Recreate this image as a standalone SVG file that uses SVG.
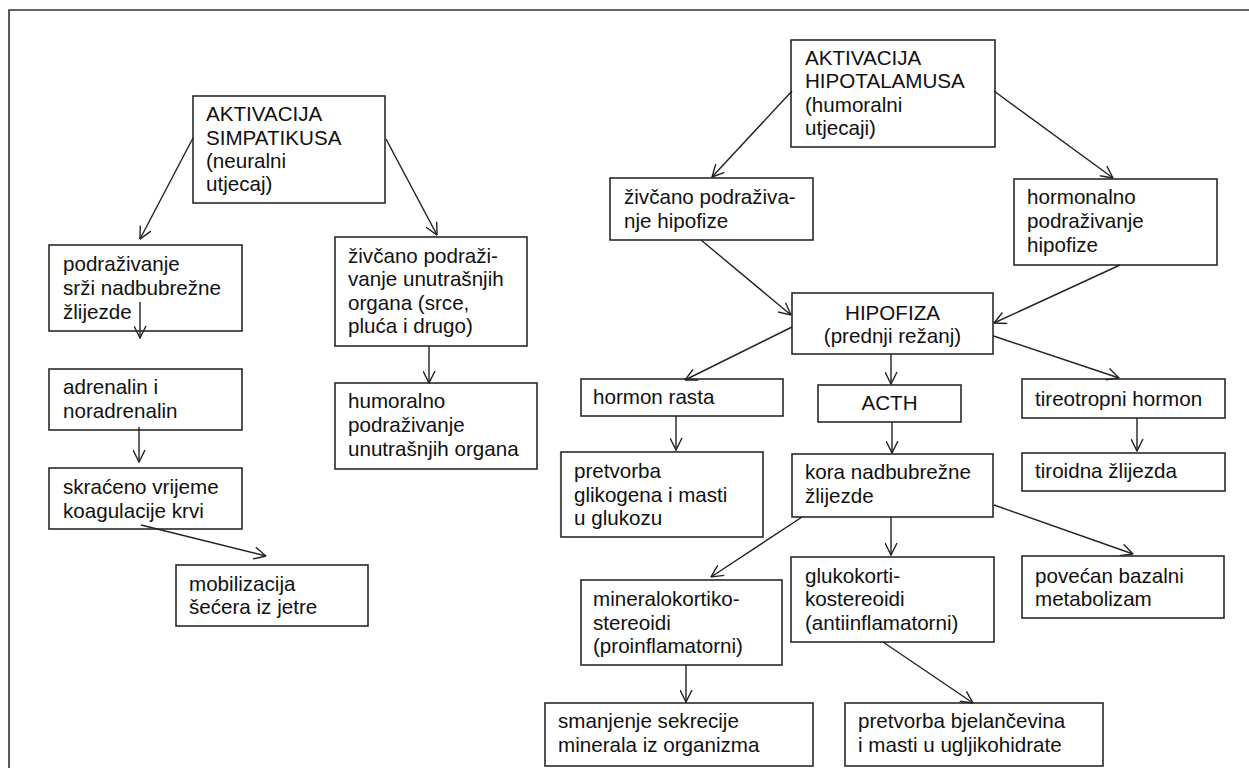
<svg xmlns="http://www.w3.org/2000/svg" width="1249" height="768" viewBox="0 0 1249 768">
<defs>
<style>
.b{fill:#fff;stroke:#2a2a2a;stroke-width:1.6}
.t{font-family:"Liberation Sans",Arial,sans-serif;font-size:20.6px;fill:#111}
.c{text-anchor:middle}
.l{stroke:#222;stroke-width:1.4;fill:none;marker-end:url(#ah)}
.f{stroke:#333;stroke-width:1.6;fill:none}
</style>
<marker id="ah" viewBox="0 0 13 13" refX="12.5" refY="6.5" markerWidth="13" markerHeight="13" markerUnits="userSpaceOnUse" orient="auto">
<path d="M0.5,0.5 L12.5,6.5 L0.5,12.5" fill="none" stroke="#222" stroke-width="1.4"/>
</marker>
</defs>
<rect width="1249" height="768" fill="#fff"/>
<g id="frame">
<path class="f" d="M9,768 V10 H1249"/>
<line x1="560" y1="452" x2="560" y2="537" stroke="#e2e2e2" stroke-width="1"/>
</g>
<g id="simpatikus">
<rect class="b" x="193" y="96" width="192" height="107"/>
<text class="t" x="206" y="121">AKTIVACIJA</text>
<text class="t" x="206" y="145">SIMPATIKUSA</text>
<text class="t" x="206" y="168">(neuralni</text>
<text class="t" x="206" y="191">utjecaj)</text>
</g>
<g id="srz">
<rect class="b" x="49" y="245" width="193" height="86"/>
<text class="t" x="63" y="271">podraživanje</text>
<text class="t" x="63" y="295">srži nadbubrežne</text>
<text class="t" x="63" y="319">žlijezde</text>
</g>
<g id="adrenalin">
<rect class="b" x="49" y="369" width="193" height="61"/>
<text class="t" x="63" y="394">adrenalin i</text>
<text class="t" x="63" y="418">noradrenalin</text>
</g>
<g id="koagulacija">
<rect class="b" x="49" y="468" width="193" height="61"/>
<text class="t" x="63" y="494">skraćeno vrijeme</text>
<text class="t" x="63" y="518">koagulacije krvi</text>
</g>
<g id="mobilizacija">
<rect class="b" x="176" y="565" width="192" height="61"/>
<text class="t" x="189" y="591">mobilizacija</text>
<text class="t" x="189" y="614">šećera iz jetre</text>
</g>
<g id="zivcano-organi">
<rect class="b" x="335" y="237" width="192" height="109"/>
<text class="t" x="348" y="263">živčano podraži-</text>
<text class="t" x="348" y="286">vanje unutrašnjih</text>
<text class="t" x="348" y="310">organa (srce,</text>
<text class="t" x="348" y="333">pluća i drugo)</text>
</g>
<g id="humoralno-organi">
<rect class="b" x="335" y="383" width="202" height="86"/>
<text class="t" x="348" y="408">humoralno</text>
<text class="t" x="348" y="432">podraživanje</text>
<text class="t" x="348" y="456">unutrašnjih organa</text>
</g>
<g id="hipotalamus">
<rect class="b" x="791" y="40" width="204" height="107"/>
<text class="t" x="805" y="65">AKTIVACIJA</text>
<text class="t" x="805" y="88">HIPOTALAMUSA</text>
<text class="t" x="805" y="112">(humoralni</text>
<text class="t" x="805" y="135">utjecaji)</text>
</g>
<g id="zivcano-hipofiza">
<rect class="b" x="610" y="178" width="203" height="62"/>
<text class="t" x="624" y="204">živčano podraživa-</text>
<text class="t" x="624" y="228">nje hipofize</text>
</g>
<g id="hormonalno-hipofiza">
<rect class="b" x="1014" y="179" width="203" height="86"/>
<text class="t" x="1027" y="204">hormonalno</text>
<text class="t" x="1027" y="228">podraživanje</text>
<text class="t" x="1027" y="252">hipofize</text>
</g>
<g id="hipofiza">
<rect class="b" x="792" y="293" width="201" height="61"/>
<text class="t c" x="892.5" y="320">HIPOFIZA</text>
<text class="t c" x="892.5" y="343">(prednji režanj)</text>
</g>
<g id="hormon-rasta">
<rect class="b" x="581" y="379" width="202" height="37"/>
<text class="t" x="593" y="404">hormon rasta</text>
</g>
<g id="acth">
<rect class="b" x="818" y="385" width="143" height="37"/>
<text class="t c" x="889.5" y="410">ACTH</text>
</g>
<g id="tireotropni">
<rect class="b" x="1022" y="379" width="203" height="39"/>
<text class="t" x="1035" y="406">tireotropni hormon</text>
</g>
<g id="glikogen">
<rect class="b" x="561" y="452" width="202" height="85"/>
<text class="t" x="574" y="478">pretvorba</text>
<text class="t" x="574" y="502">glikogena i masti</text>
<text class="t" x="574" y="525">u glukozu</text>
</g>
<g id="kora">
<rect class="b" x="792" y="454" width="201" height="63"/>
<text class="t" x="805" y="479">kora nadbubrežne</text>
<text class="t" x="805" y="503">žlijezde</text>
</g>
<g id="tiroidna">
<rect class="b" x="1022" y="453" width="203" height="38"/>
<text class="t" x="1035" y="478">tiroidna žlijezda</text>
</g>
<g id="mineralokortiko">
<rect class="b" x="581" y="580" width="201" height="85"/>
<text class="t" x="593" y="606">mineralokortiko-</text>
<text class="t" x="593" y="630">stereoidi</text>
<text class="t" x="593" y="653">(proinflamatorni)</text>
</g>
<g id="glukokorti">
<rect class="b" x="791" y="557" width="203" height="85"/>
<text class="t" x="805" y="583">glukokorti-</text>
<text class="t" x="805" y="606">kostereoidi</text>
<text class="t" x="805" y="630">(antiinflamatorni)</text>
</g>
<g id="metabolizam">
<rect class="b" x="1022" y="556" width="202" height="62"/>
<text class="t" x="1035" y="583">povećan bazalni</text>
<text class="t" x="1035" y="606">metabolizam</text>
</g>
<g id="minerali">
<rect class="b" x="545" y="703" width="268" height="63"/>
<text class="t" x="558" y="728">smanjenje sekrecije</text>
<text class="t" x="558" y="752">minerala iz organizma</text>
</g>
<g id="bjelancevine">
<rect class="b" x="845" y="703" width="258" height="63"/>
<text class="t" x="858" y="728">pretvorba bjelančevina</text>
<text class="t" x="858" y="752">i masti u ugljikohidrate</text>
</g>
<g id="connectors">
<line class="l" x1="193" y1="138" x2="140" y2="239"/>
<line class="l" x1="386" y1="139" x2="437" y2="235"/>
<line class="l" x1="140" y1="302" x2="140" y2="338"/>
<line class="l" x1="139" y1="427" x2="139" y2="462"/>
<line class="l" x1="141" y1="525" x2="266" y2="556"/>
<line class="l" x1="429" y1="346" x2="429" y2="383"/>
<line class="l" x1="792" y1="91" x2="712" y2="177"/>
<line class="l" x1="994" y1="91" x2="1113" y2="178"/>
<line class="l" x1="701" y1="240" x2="791" y2="315"/>
<line class="l" x1="1120" y1="265" x2="994" y2="323"/>
<line class="l" x1="792" y1="327" x2="685" y2="380"/>
<line class="l" x1="891" y1="354" x2="891" y2="384"/>
<line class="l" x1="993.5" y1="336" x2="1119" y2="378"/>
<line class="l" x1="676" y1="416" x2="676" y2="450"/>
<line class="l" x1="892" y1="422" x2="892" y2="453"/>
<line class="l" x1="1137" y1="418" x2="1137" y2="451"/>
<line class="l" x1="802" y1="517" x2="711" y2="577"/>
<line class="l" x1="891" y1="517" x2="891" y2="555"/>
<line class="l" x1="994" y1="505" x2="1133" y2="554"/>
<line class="l" x1="686" y1="665" x2="686" y2="702"/>
<line class="l" x1="883" y1="642" x2="973" y2="703"/>
</g>
</svg>
